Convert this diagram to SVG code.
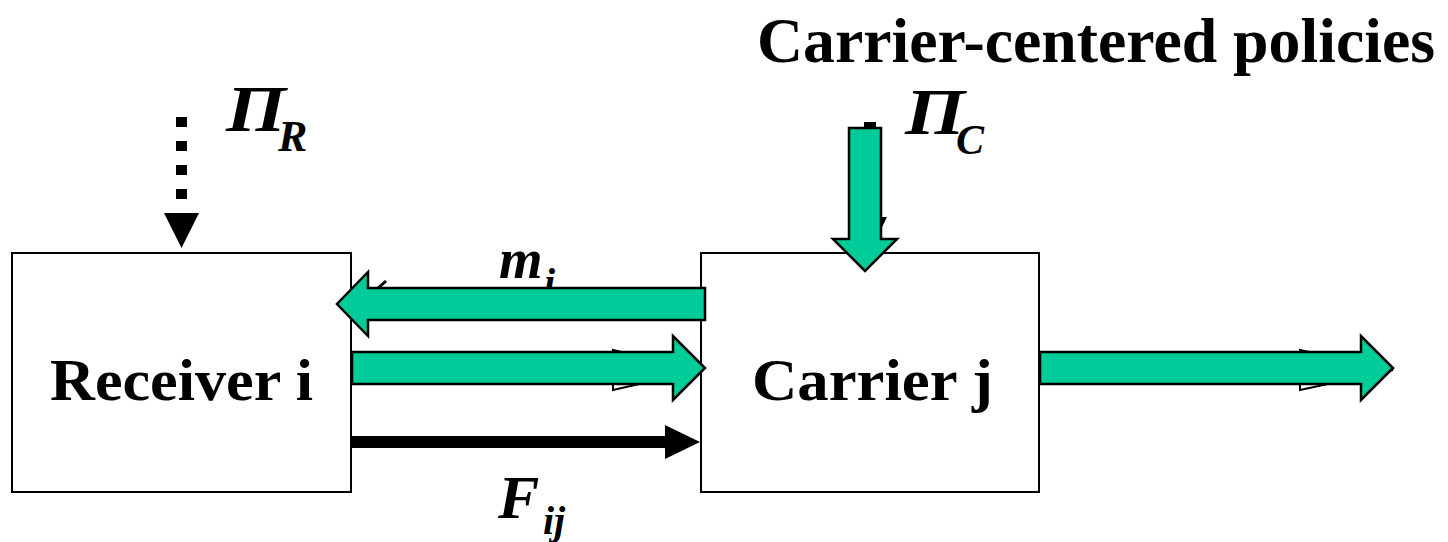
<svg xmlns="http://www.w3.org/2000/svg" width="1448" height="542" viewBox="0 0 1448 542">
<style>
.box{fill:#fff;stroke:#000;stroke-width:2}
.lbl{font-family:"Liberation Serif","Times New Roman",serif;font-weight:bold;fill:#000}
.sym{font-family:"Liberation Serif","Times New Roman",serif;font-weight:bold;font-style:italic;fill:#000}
.fat{fill:#00CC99;stroke:#000;stroke-width:2.5;stroke-linejoin:miter}
.ghost{fill:#fff;stroke:#000;stroke-width:2}
</style>
<rect width="1448" height="542" fill="#fff"/>
<g id="title">
<text class="lbl" x="757" y="62" font-size="64" textLength="678" lengthAdjust="spacingAndGlyphs">Carrier-centered policies</text>
</g>
<g id="receiver">
<rect class="box" x="12" y="253" width="339" height="239"/>
<text class="lbl" x="50" y="400" font-size="60" textLength="263" lengthAdjust="spacingAndGlyphs">Receiver i</text>
</g>
<g id="carrier">
<rect class="box" x="701" y="253" width="338" height="239"/>
<text class="lbl" x="752" y="400" font-size="60" textLength="241" lengthAdjust="spacingAndGlyphs">Carrier j</text>
</g>
<g id="labels">
<text class="sym" x="226" y="131" font-size="66" textLength="60" lengthAdjust="spacingAndGlyphs">Π</text>
<text class="sym" x="278" y="151" font-size="44">R</text>
<text class="sym" x="905" y="134" font-size="66" textLength="60" lengthAdjust="spacingAndGlyphs">Π</text>
<text class="sym" x="956" y="154" font-size="42">C</text>
<text class="sym" x="499" y="278" font-size="56">m</text>
<text class="sym" x="544" y="296" font-size="40">i</text>
<text class="sym" x="498" y="518" font-size="62">F</text>
<text class="sym" x="543" y="534" font-size="40">ij</text>
</g>
<g id="connectors">
<line x1="181.5" y1="117" x2="181.5" y2="201" stroke="#000" stroke-width="11" stroke-dasharray="10 14"/>
<polygon points="164,213 199,213 181.5,248" fill="#000"/>
<rect x="864" y="122" width="12" height="8" fill="#000"/>
<polygon points="853,217 887,217 870,252" fill="#000"/>
<line x1="377" y1="289" x2="386" y2="281" stroke="#000" stroke-width="3"/>
<polygon class="ghost" points="613,350 613,390 701,370"/>
<polygon class="ghost" points="1300,350 1300,390 1393,370"/>
<polygon class="fat" points="849,128 881,128 881,239 897,239 865,271 833,239 849,239"/>
<polygon class="fat" points="705,288 368,288 368,272 337,304 368,336 368,320 705,320"/>
<polygon class="fat" points="352,352 673,352 673,336 705,368 673,400 673,384 352,384"/>
<polygon class="fat" points="1040,352 1361,352 1361,336 1393,368 1361,400 1361,384 1040,384"/>
<line x1="351" y1="442" x2="667" y2="442" stroke="#000" stroke-width="12"/>
<polygon points="665,425 700,442 665,459" fill="#000"/>
</g>
</svg>
